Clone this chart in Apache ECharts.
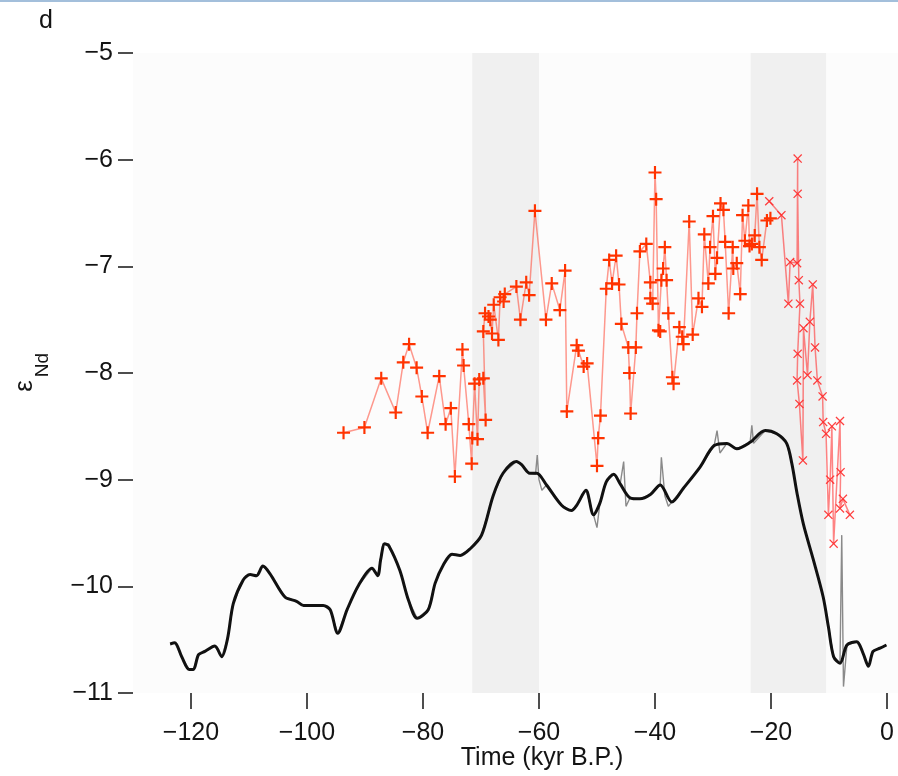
<!DOCTYPE html>
<html>
<head>
<meta charset="utf-8">
<script src="https://cdn.jsdelivr.net/npm/echarts@6/dist/echarts.min.js"></script>
<style>
html,body{margin:0;padding:0;background:#fff;}
#c{width:898px;height:776px;}
</style>
</head>
<body>
<div id="c"></div>
<script>
// ---- data ----
const xTicks = [-120, -100, -80, -60, -40, -20, 0];
const shadeBands = [[-71.5, -60], [-23.5, -10.5]];

const plusAge = [-93.7,-90.1,-87.2,-84.7,-83.4,-82.4,-81.1,-80.2,-79.2,-77.2,-76.1,-75.2,-74.5,-73.2,-73.0,-72.1,-71.6,-71.5,-71.1,-70.6,-70.3,-69.6,-69.2,-69.6,-69.3,-68.7,-68.4,-68.1,-67.8,-67.0,-66.7,-66.1,-65.9,-63.9,-63.2,-62.2,-61.7,-60.7,-58.8,-57.8,-56.4,-55.5,-55.2,-53.5,-53.2,-52.3,-51.7,-50.0,-49.8,-49.4,-48.4,-47.9,-47.4,-46.7,-46.2,-45.8,-44.6,-44.4,-44.2,-43.3,-43.1,-42.6,-41.5,-40.8,-40.8,-40.4,-40.0,-39.8,-39.4,-39.1,-38.9,-38.6,-38.3,-38.0,-37.7,-37.0,-36.8,-35.8,-35.3,-35.1,-34.1,-33.5,-32.5,-31.9,-31.5,-30.8,-30.5,-30.0,-29.6,-29.3,-28.7,-28.2,-27.9,-27.3,-26.6,-26.5,-25.9,-25.3,-24.9,-24.5,-23.9,-23.7,-23.3,-22.8,-22.4,-22.0,-21.6,-20.7,-20.1];
const plusEps = [-8.56,-8.51,-8.05,-8.37,-7.90,-7.73,-7.95,-8.22,-8.56,-8.03,-8.48,-8.33,-8.97,-7.78,-7.93,-8.48,-8.85,-8.61,-8.10,-8.62,-8.06,-8.05,-8.44,-7.61,-7.44,-7.47,-7.50,-7.63,-7.36,-7.69,-7.29,-7.33,-7.26,-7.19,-7.50,-7.15,-7.27,-6.48,-7.50,-7.16,-7.41,-7.04,-8.36,-7.74,-7.79,-7.94,-7.91,-8.87,-8.61,-8.40,-7.21,-6.94,-7.16,-6.90,-7.17,-7.54,-7.76,-8.00,-8.38,-7.76,-7.44,-6.86,-6.79,-7.15,-7.30,-7.35,-6.12,-6.37,-7.60,-7.61,-7.13,-7.02,-6.82,-7.13,-7.44,-8.04,-8.10,-7.57,-7.66,-7.73,-6.58,-7.64,-7.30,-7.38,-6.70,-7.16,-6.82,-6.53,-7.07,-6.92,-6.41,-6.47,-6.77,-7.44,-6.82,-7.02,-6.97,-7.26,-6.52,-6.76,-6.43,-6.81,-6.79,-6.71,-6.32,-6.82,-6.94,-6.57,-6.55];

const crossAge = [-20.3,-18.2,-17.0,-16.7,-15.5,-15.4,-15.4,-15.2,-15.0,-15.4,-15.5,-15.1,-14.5,-14.4,-13.7,-13.3,-12.8,-12.4,-12.0,-11.1,-11.0,-10.5,-10.1,-9.8,-9.5,-9.2,-8.1,-8.0,-8.1,-7.6,-6.4];
const crossEps = [-6.39,-6.52,-7.35,-6.96,-6.97,-5.99,-6.32,-7.13,-7.35,-7.82,-8.07,-8.29,-8.82,-7.58,-8.02,-7.52,-7.17,-7.76,-8.07,-8.22,-8.46,-8.57,-9.33,-9.00,-8.50,-9.60,-8.45,-8.93,-9.27,-9.18,-9.33];

const smoothAge = [-123.6,-122.8,-121.6,-120.3,-119.6,-118.7,-117.6,-115.9,-114.7,-113.7,-112.7,-111.0,-109.8,-108.7,-107.6,-106.4,-103.8,-101.8,-100.6,-97.2,-96.0,-94.7,-93.1,-91.1,-88.8,-87.8,-87.3,-86.6,-85.9,-84.0,-82.5,-81.0,-79.1,-77.9,-76.5,-75.0,-73.6,-71.9,-69.9,-67.9,-66.2,-63.9,-63.0,-61.6,-60.4,-58.7,-56.1,-54.4,-53.5,-51.9,-50.6,-49.5,-48.4,-47.1,-46.0,-44.3,-42.6,-40.8,-39.1,-37.1,-35.1,-32.2,-29.8,-27.6,-25.9,-23.6,-21.0,-19.0,-17.3,-16.4,-15.5,-14.4,-12.7,-11.0,-10.1,-9.2,-8.1,-6.9,-5.2,-4.1,-3.2,-2.4,-1.2,-0.1];
const smoothEps = [-10.54,-10.53,-10.66,-10.78,-10.78,-10.64,-10.61,-10.56,-10.66,-10.49,-10.16,-9.94,-9.89,-9.90,-9.81,-9.88,-10.10,-10.14,-10.18,-10.18,-10.22,-10.44,-10.22,-9.99,-9.83,-9.90,-9.75,-9.60,-9.62,-9.85,-10.13,-10.30,-10.22,-9.97,-9.80,-9.70,-9.71,-9.65,-9.52,-9.15,-8.94,-8.83,-8.86,-8.94,-8.94,-9.05,-9.24,-9.29,-9.24,-9.10,-9.33,-9.22,-9.02,-8.95,-9.04,-9.17,-9.18,-9.14,-9.05,-9.21,-9.08,-8.88,-8.68,-8.66,-8.71,-8.65,-8.54,-8.57,-8.66,-8.85,-9.13,-9.42,-9.75,-10.10,-10.38,-10.66,-10.72,-10.55,-10.52,-10.63,-10.75,-10.61,-10.58,-10.55];

const rawAge = [-123.6,-122.8,-121.6,-120.3,-119.6,-118.7,-117.6,-115.9,-114.7,-113.7,-112.7,-111.0,-109.8,-108.7,-107.6,-106.4,-103.8,-101.8,-100.6,-97.2,-96.0,-94.7,-93.1,-91.1,-88.8,-87.8,-86.9,-85.9,-84.0,-82.5,-81.0,-79.1,-77.9,-76.5,-75.0,-73.6,-71.9,-69.9,-67.9,-66.2,-63.9,-63.0,-61.6,-60.6,-60.3,-60.0,-59.5,-58.7,-56.1,-54.4,-53.5,-51.9,-50.6,-50.0,-49.5,-48.4,-47.1,-46.0,-45.4,-45.0,-44.3,-42.6,-40.8,-39.1,-38.9,-38.3,-37.7,-37.1,-35.1,-32.2,-29.8,-29.3,-28.8,-27.6,-25.9,-23.6,-23.3,-23.0,-21.0,-19.0,-17.3,-16.4,-15.5,-14.4,-12.7,-11.0,-10.1,-9.2,-8.1,-7.8,-7.5,-6.9,-5.2,-4.1,-3.2,-2.4,-1.2,-0.1];
const rawEps = [-10.54,-10.53,-10.66,-10.78,-10.78,-10.64,-10.61,-10.56,-10.66,-10.49,-10.16,-9.94,-9.89,-9.90,-9.81,-9.88,-10.10,-10.14,-10.18,-10.18,-10.22,-10.44,-10.22,-9.99,-9.83,-9.90,-9.60,-9.60,-9.85,-10.13,-10.30,-10.22,-9.97,-9.80,-9.70,-9.71,-9.65,-9.52,-9.15,-8.94,-8.83,-8.86,-8.94,-8.95,-8.77,-9.00,-9.10,-9.05,-9.24,-9.29,-9.24,-9.10,-9.33,-9.45,-9.22,-9.02,-8.95,-9.04,-8.83,-9.25,-9.17,-9.18,-9.14,-9.05,-8.79,-9.15,-9.25,-9.21,-9.08,-8.88,-8.68,-8.54,-8.75,-8.66,-8.71,-8.65,-8.49,-8.66,-8.54,-8.57,-8.66,-8.85,-9.13,-9.42,-9.75,-10.10,-10.38,-10.66,-10.72,-9.52,-10.94,-10.55,-10.52,-10.63,-10.75,-10.61,-10.58,-10.55];

// ---- build ----
const zip = (a, b) => a.map((v, i) => [v, b[i]]);
const minus = v => String(v).replace('-', '\u2212');
const FONT = "'Liberation Sans', Arial, sans-serif";
const TXT = '#141414';

const PLUS = 'path://M5,0H7V5H12V7H7V12H5V7H0V5H5Z';
const CROSS = 'path://M1,0L5,4L9,0L10,1L6,5L10,9L9,10L5,6L1,10L0,9L4,5L0,1Z';

const chart = echarts.init(document.getElementById('c'), null, {renderer: 'canvas'});
chart.setOption({
  animation: false,
  backgroundColor: '#ffffff',
  grid: {left: 133, right: 0, top: 53, bottom: 83, show: true, backgroundColor: '#fcfcfc', borderWidth: 0},
  xAxis: {
    type: 'value', min: -130, max: 1.9,
    axisLine: {show: false, onZero: false}, splitLine: {show: false},
    axisTick: {show: true, length: 16, customValues: xTicks, lineStyle: {color: TXT, width: 1.5}},
    axisLabel: {customValues: xTicks, margin: 28, fontSize: 25, fontFamily: FONT, color: TXT, formatter: minus}
  },
  yAxis: {
    type: 'value', min: -11, max: -5, interval: 1,
    axisLine: {show: false, onZero: false}, splitLine: {show: false},
    axisTick: {show: true, length: 15, lineStyle: {color: TXT, width: 1.5}},
    axisLabel: {margin: 20, fontSize: 25, fontFamily: FONT, color: TXT, formatter: minus}
  },
  graphic: [
    {type: 'rect', left: 0, top: 0, shape: {width: 898, height: 2}, style: {fill: '#a3bfdb'}},
    {type: 'text', x: 39, y: 9, style: {text: 'd', font: '25px ' + FONT, fill: TXT}},
    {type: 'text', x: 542, y: 758, style: {text: 'Time (kyr B.P.)', font: '25px ' + FONT, fill: TXT, align: 'center', verticalAlign: 'middle'}},
    {type: 'text', x: 25, y: 386, rotation: Math.PI / 2, style: {text: '\u03b5', font: '26px ' + FONT, fill: TXT, align: 'center', verticalAlign: 'middle'}},
    {type: 'text', x: 43, y: 365, rotation: Math.PI / 2, style: {text: 'Nd', font: '19px ' + FONT, fill: TXT, align: 'center', verticalAlign: 'middle'}}
  ],
  series: [
    {
      type: 'line', data: [], z: 0, silent: true,
      markArea: {silent: true, itemStyle: {color: '#f0f0f0'},
        data: shadeBands.map(b => [{xAxis: b[0]}, {xAxis: b[1]}])}
    },
    {
      type: 'line', data: zip(rawAge, rawEps), z: 2, showSymbol: false,
      lineStyle: {color: '#8a8a8a', width: 1.4}
    },
    {
      type: 'line', data: zip(smoothAge, smoothEps), z: 3, showSymbol: false,
      smooth: 0.3,
      lineStyle: {color: '#111111', width: 3}
    },
    {
      type: 'line', data: zip(plusAge, plusEps), z: 4,
      symbol: PLUS, symbolSize: 13,
      itemStyle: {color: '#ff3300'},
      lineStyle: {color: 'rgba(255,70,50,0.55)', width: 1.5}
    },
    {
      type: 'line', data: zip(crossAge, crossEps), z: 4,
      symbol: CROSS, symbolSize: 9,
      itemStyle: {color: '#ff2a2a', opacity: 0.9},
      lineStyle: {color: 'rgba(255,50,50,0.6)', width: 1.5}
    }
  ]
});
</script>
</body>
</html>
